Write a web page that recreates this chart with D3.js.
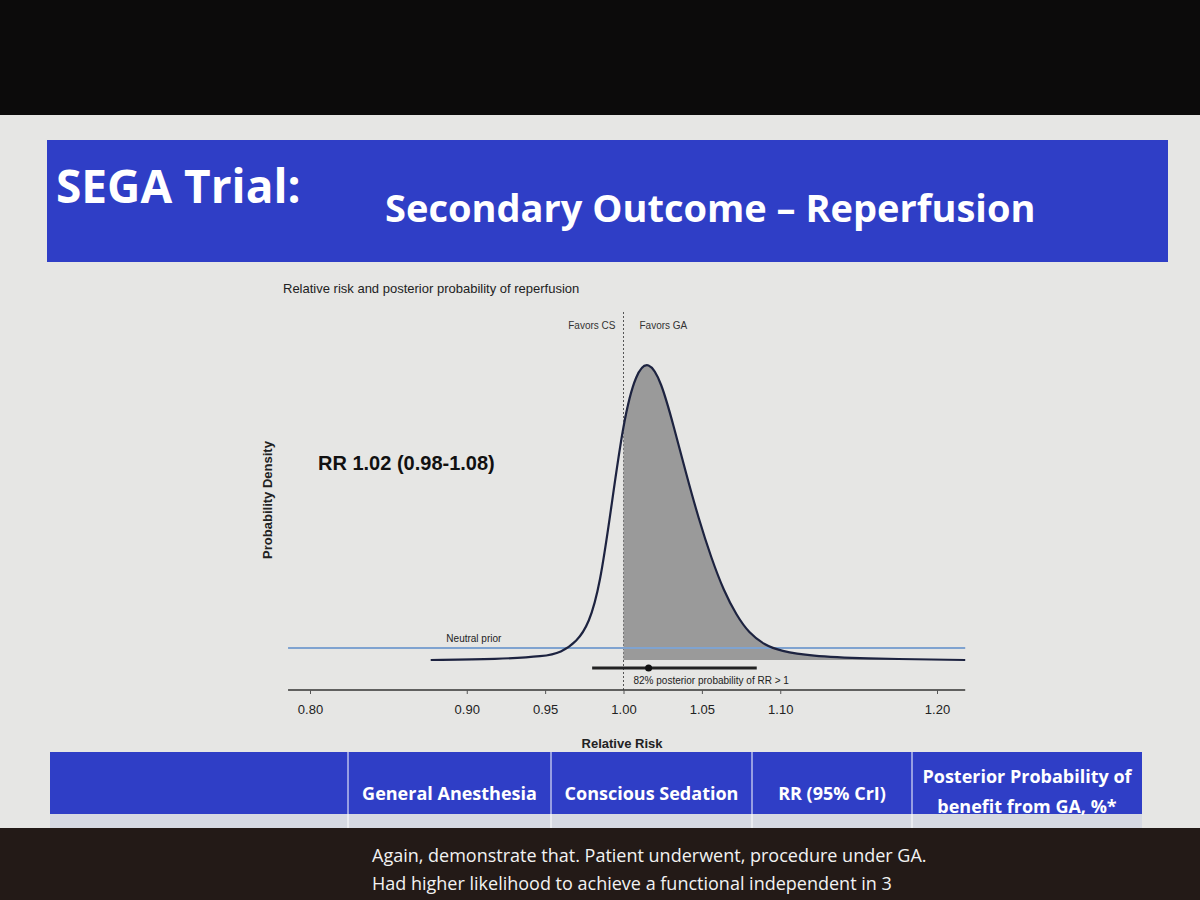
<!DOCTYPE html>
<html><head><meta charset="utf-8">
<script src="https://cdn.jsdelivr.net/npm/d3@7"></script>
<style>body{margin:0;background:#111}</style></head>
<body><svg id="c" width="1200" height="900"></svg>
<script>
const rr =      [0.877,0.92,0.95,0.96,0.97,0.978,0.985,0.992,1.00,1.008,1.016,1.024,1.032,1.04,1.048,1.056,1.064,1.072,1.08,1.09,1.10,1.12,1.15,1.218];
const density = [0.00,0.003,0.012,0.025,0.06,0.12,0.25,0.50,0.80,0.96,1.00,0.93,0.78,0.62,0.47,0.34,0.23,0.15,0.09,0.05,0.03,0.013,0.005,0.0];
const priorLevel = 0.04;
const crI = [0.98, 1.085]; const pointEst = 1.016;
const xTicks = [0.80,0.90,0.95,1.00,1.05,1.10,1.20];
const headers = ["","General Anesthesia","Conscious Sedation","RR (95% CrI)","Posterior Probability of|benefit from GA, %*"];

const svg = d3.select("#c");
const F = "Liberation Sans, Arial, sans-serif";
svg.append("rect").attr("width",1200).attr("height",900).attr("fill","#0c0b0b");
svg.append("rect").attr("x",0).attr("y",115).attr("width",1200).attr("height",715).attr("fill","#e6e6e4");
svg.append("rect").attr("x",47).attr("y",140).attr("width",1121).attr("height",122).attr("fill","#2f3ec6");
svg.append("text").attr("x",56).attr("y",203).attr("font-family","Open Sans, sans-serif").attr("font-weight","bold").attr("font-size",46).attr("fill","#fff").text("SEGA Trial:");
svg.append("text").attr("x",385).attr("y",222).attr("font-family","Open Sans, sans-serif").attr("font-weight","bold").attr("font-size",38).attr("fill","#fff").text("Secondary Outcome – Reperfusion");

const x = d3.scaleLinear().domain([0.8,1.2]).range([310,937]);
const y = d3.scaleLinear().domain([0,1]).range([660,360]);
const g = svg.append("g");
g.append("text").attr("x",283).attr("y",293).attr("font-family",F).attr("font-size",13).attr("fill","#222").text("Relative risk and posterior probability of reperfusion");
g.append("line").attr("x1",x(1)).attr("x2",x(1)).attr("y1",312).attr("y2",690).attr("stroke","#555").attr("stroke-dasharray","2,2");
g.append("text").attr("x",x(1)-8).attr("y",329).attr("text-anchor","end").attr("font-family",F).attr("font-size",10).attr("fill","#333").text("Favors CS");
g.append("text").attr("x",x(1)+16).attr("y",329).attr("font-family",F).attr("font-size",10).attr("fill","#333").text("Favors GA");
g.append("text").attr("transform","translate(272,500) rotate(-90)").attr("text-anchor","middle").attr("font-family",F).attr("font-weight","bold").attr("font-size",13).attr("fill","#222").text("Probability Density");
g.append("text").attr("x",318).attr("y",470).attr("font-family",F).attr("font-weight","bold").attr("font-size",20).attr("fill","#111").text("RR 1.02 (0.98-1.08)");

const pts = rr.map((r,i)=>[r,density[i]]);
const shaded = pts.filter(p=>p[0]>=1.0);
g.append("path").datum(shaded).attr("fill","#9a9a9a")
  .attr("d",d3.area().x(d=>x(d[0])).y0(y(0)).y1(d=>y(d[1])).curve(d3.curveBasis));
g.append("line").attr("x1",x(0.786)).attr("x2",x(1.218)).attr("y1",y(priorLevel)).attr("y2",y(priorLevel)).attr("stroke","#7fa3d0").attr("stroke-width",2);
g.append("path").datum(pts).attr("fill","none").attr("stroke","#1d2340").attr("stroke-width",2.2)
  .attr("d",d3.line().x(d=>x(d[0])).y(d=>y(d[1])).curve(d3.curveBasis));
g.append("text").attr("x",x(0.887)).attr("y",y(priorLevel)-6).attr("font-family",F).attr("font-size",10).attr("fill","#222").text("Neutral prior");
g.append("line").attr("x1",x(crI[0])).attr("x2",x(crI[1])).attr("y1",668).attr("y2",668).attr("stroke","#222").attr("stroke-width",3);
g.append("circle").attr("cx",x(pointEst)).attr("cy",668).attr("r",3.5).attr("fill","#111");
g.append("text").attr("x",x(1)+10).attr("y",684).attr("font-family",F).attr("font-size",10).attr("fill","#222").text("82% posterior probability of RR > 1");

const ax = g.append("g").attr("transform","translate(0,690)")
  .call(d3.axisBottom(x).tickValues(xTicks).tickFormat(d3.format(".2f")).tickSize(4).tickSizeOuter(0));
ax.select(".domain").attr("d",`M${x(0.786)},0H${x(1.218)}`).attr("stroke","#333").attr("stroke-width",1.5);
ax.selectAll("text").attr("font-family",F).attr("font-size",13).attr("fill","#222").attr("dy","1.3em");
ax.selectAll(".tick line").attr("stroke","#555");
g.append("text").attr("x",622).attr("y",748).attr("text-anchor","middle").attr("font-family",F).attr("font-weight","bold").attr("font-size",13).attr("fill","#222").text("Relative Risk");

const cols=[50,348,551,752,912,1142];
svg.append("rect").attr("x",50).attr("y",752).attr("width",1092).attr("height",62).attr("fill","#2f3ec6");
svg.append("rect").attr("x",50).attr("y",814).attr("width",1092).attr("height",16).attr("fill","#d6d9e2");
cols.slice(1,-1).forEach(c=>svg.append("line").attr("x1",c).attr("x2",c).attr("y1",752).attr("y2",830).attr("stroke","#fff"));
headers.forEach((h,i)=>{ if(!h) return;
  const lines=h.split("|"); const cx=(cols[i]+cols[i+1])/2;
  lines.forEach((l,j)=>svg.append("text").attr("x",cx).attr("y",lines.length>1?783+j*30:800).attr("text-anchor","middle")
    .attr("font-family","Open Sans, sans-serif").attr("font-weight","bold").attr("font-size",18).attr("fill","#fff").text(l));
});
svg.append("rect").attr("x",0).attr("y",828).attr("width",1200).attr("height",72).attr("fill","#231a17");
svg.append("text").attr("x",372).attr("y",862).attr("font-family","Open Sans, sans-serif").attr("font-size",18).attr("fill","#f2f2f2").text("Again, demonstrate that. Patient underwent, procedure under GA.");
svg.append("text").attr("x",372).attr("y",890).attr("font-family","Open Sans, sans-serif").attr("font-size",18).attr("fill","#f2f2f2").text("Had higher likelihood to achieve a functional independent in 3");
</script></body></html>
